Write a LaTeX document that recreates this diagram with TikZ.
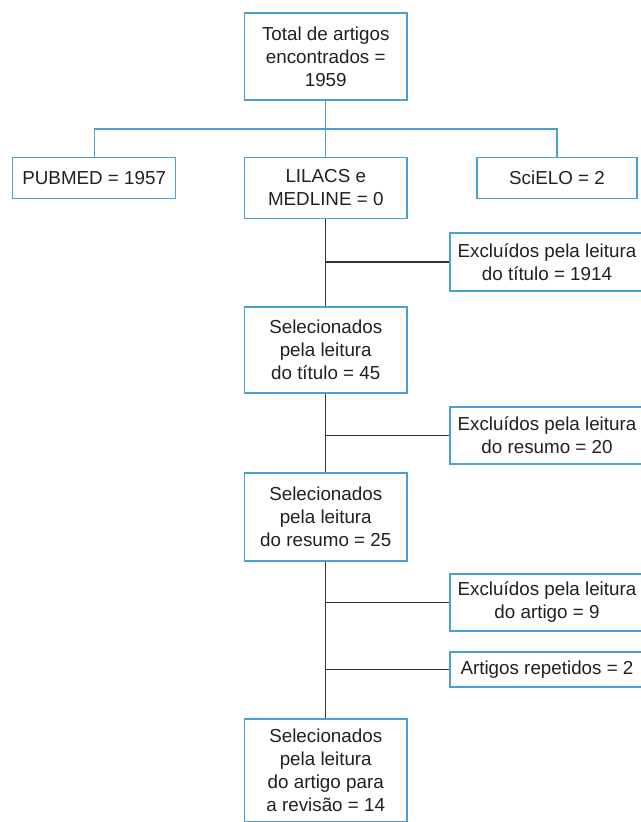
\documentclass[tikz,border=0pt]{standalone}
\usepackage{fontspec}
\setmainfont{Liberation Sans}
\definecolor{boxblue}{HTML}{4A9FD5}
\definecolor{txt}{HTML}{231F20}
\definecolor{dline}{HTML}{333333}
\begin{document}
\begin{tikzpicture}[x=1pt,y=-1pt,
  box/.style={draw=boxblue,line width=1.3pt,inner sep=0pt,align=center,text=txt,
    font=\fontsize{18.8}{23}\selectfont},
  bline/.style={draw=boxblue,line width=1.3pt},
  kline/.style={draw=dline,line width=1.3pt}]
\useasboundingbox (0,0) rectangle (640,822);
\node[box,minimum width=162.5pt,minimum height=87pt] (top) at (325.75,56.5) {Total de artigos\\encontrados =\\1959};
\node[box,minimum width=163pt,minimum height=40.5pt] (pub) at (94.2,178) {PUBMED = 1957};
\node[box,minimum width=162.5pt,minimum height=61.5pt] (lil) at (325.75,188) {LILACS e\\MEDLINE = 0};
\node[box,minimum width=160pt,minimum height=40.5pt] (sci) at (557,178) {SciELO = 2};
\coordinate (bus) at (325.75,129);
\node[box,minimum width=162.5pt,minimum height=86pt] (s45) at (325.75,350) {Selecionados\\pela leitura\\do título = 45};
\node[box,minimum width=162.5pt,minimum height=88pt] (s25) at (325.75,517) {Selecionados\\pela leitura\\do resumo = 25};
\node[box,minimum width=162.5pt,minimum height=103pt] (fin) at (325.75,770.5) {Selecionados\\pela leitura\\do artigo para\\a revisão = 14};
\node[box,minimum width=194pt,minimum height=58pt] (e1914) at (547,262) {Excluídos pela leitura\\do título = 1914};
\node[box,minimum width=194pt,minimum height=57pt] (e20) at (547,435.5) {Excluídos pela leitura\\do resumo = 20};
\node[box,minimum width=194pt,minimum height=57pt] (e9) at (547,602.5) {Excluídos pela leitura\\do artigo = 9};
\node[box,minimum width=194pt,minimum height=35pt] (rep) at (547,669.5) {Artigos repetidos = 2};
% blue tree
\draw[bline] (top.south) -- (lil.north);
\draw[bline] (pub.north) |- (bus) -| (sci.north);
% dark chain
\draw[kline] (lil.south) -- (s45.north);
\draw[kline] (s45.south) -- (s25.north);
\draw[kline] (s25.south) -- (fin.north);
\draw[kline] (e1914.west) -- (e1914.west -| lil.south);
\draw[kline] (e20.west) -- (e20.west -| s45.south);
\draw[kline] (e9.west) -- (e9.west -| s25.south);
\draw[kline] (rep.west) -- (rep.west -| s25.south);
\end{tikzpicture}
\end{document}
